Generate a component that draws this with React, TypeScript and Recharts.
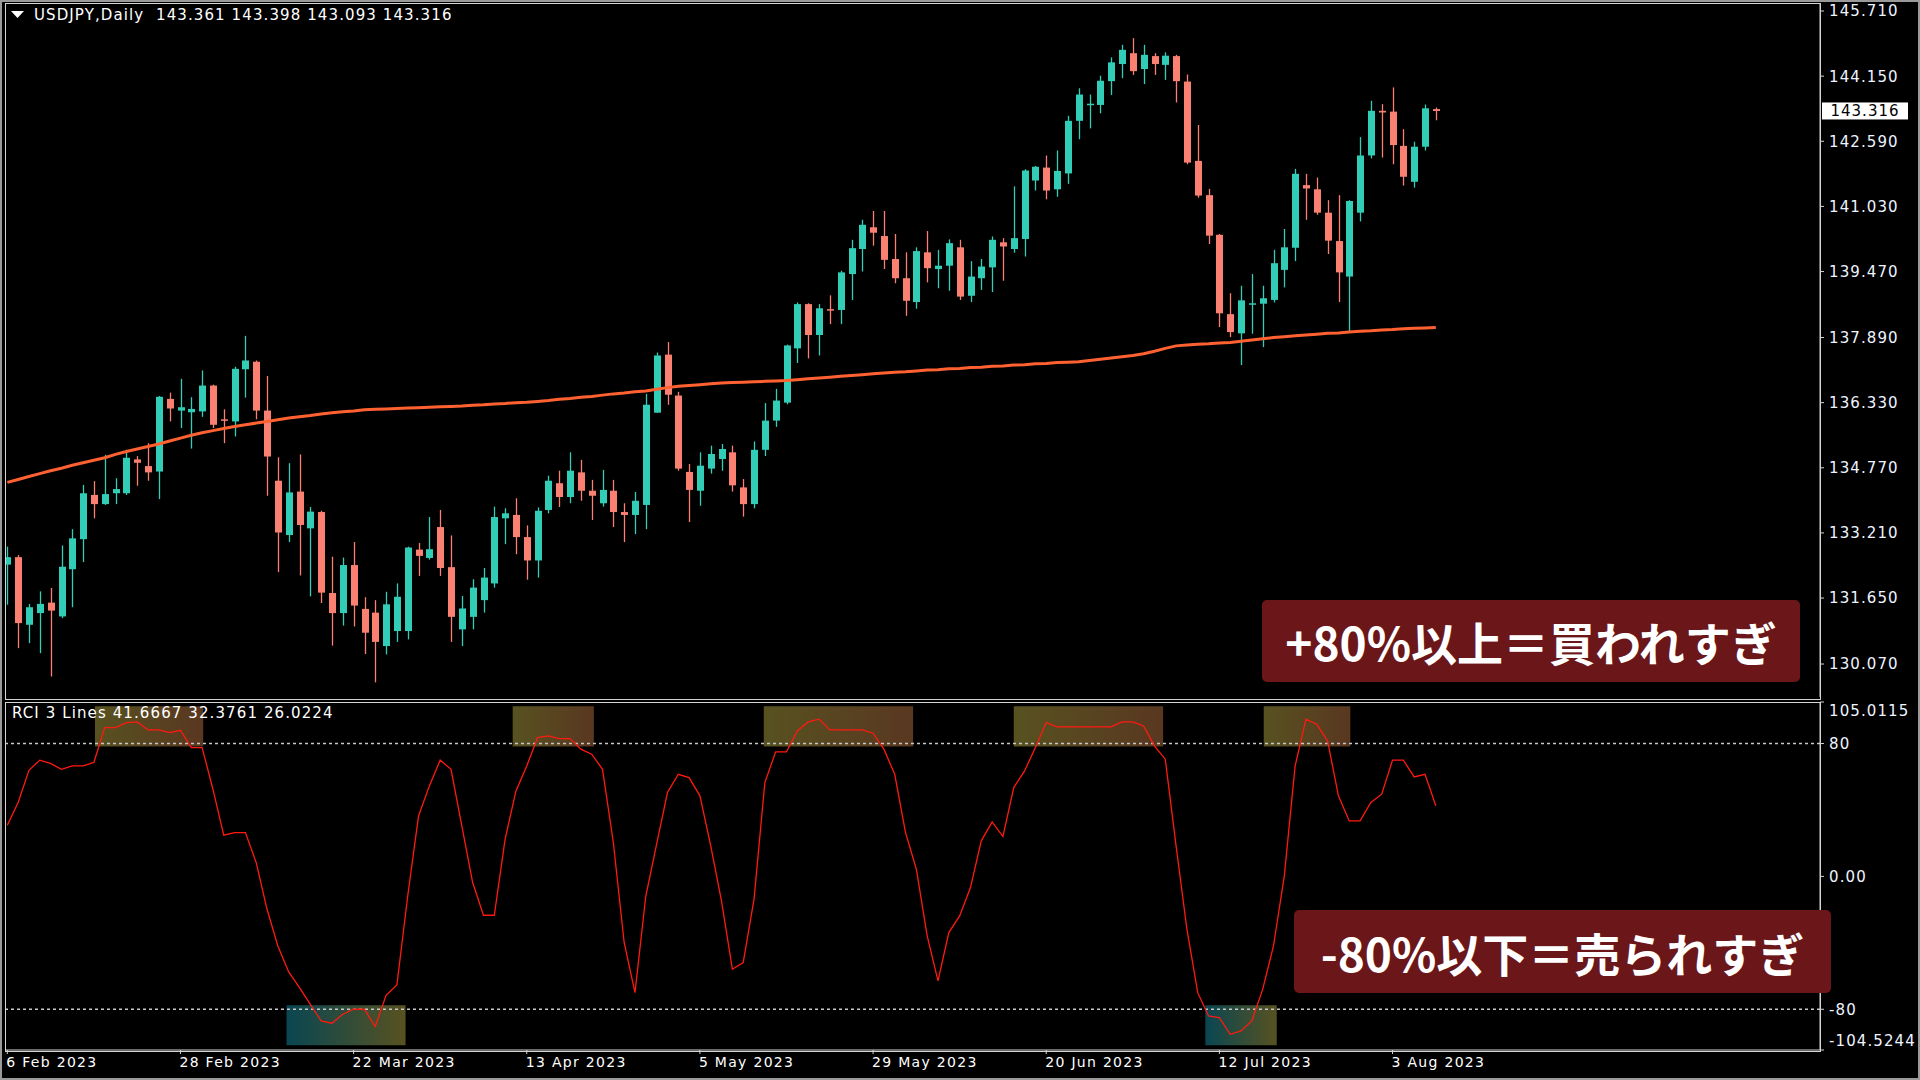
import React from "react";
import {
  ComposedChart,
  Bar,
  Line,
  XAxis,
  YAxis,
  ReferenceLine,
  ReferenceArea,
} from "recharts";

// daily candles, 6 Feb 2023 .. 9 Aug 2023 (index = trading day)
const OPEN = [
  132.45, 132.63, 131.01, 131.29, 131.54, 131.21, 132.34, 133.06, 134.12, 133.9,
  134.16, 134.16, 134.97, 134.81, 134.68, 136.42, 136.14, 136.1, 136.12, 136.74,
  135.93, 135.88, 137.13, 137.31, 136.14, 134.46, 133.16, 134.2, 133.32, 133.71,
  131.77, 131.29, 132.44, 131.39, 131.3, 130.5, 130.86, 130.86, 132.81, 132.61,
  133.35, 132.39, 130.9, 131.2, 131.6, 132.0, 133.56, 133.64, 133.11, 132.55,
  133.76, 134.4, 134.07, 134.66, 134.22, 133.92, 134.22, 133.71, 133.64, 133.88,
  136.09, 137.48, 136.5, 134.67, 134.22, 134.75, 134.98, 135.14, 134.3, 133.9,
  135.2, 135.9, 136.33, 137.63, 138.69, 137.95, 138.57, 138.55, 139.41, 140.01,
  140.53, 140.32, 139.77, 139.31, 138.74, 139.93, 139.53, 139.61, 140.05, 138.89,
  139.31, 139.57, 140.17, 140.01, 140.25, 141.65, 141.96, 141.44, 141.82, 143.08,
  143.46, 143.46, 144.03, 144.44, 144.7, 144.32, 144.63, 144.42, 144.63, 144.02,
  142.12, 141.3, 140.35, 138.45, 137.99, 138.69, 138.7, 138.79, 139.51, 140.04,
  141.54, 141.44, 140.88, 140.2, 139.35, 140.88, 142.25, 143.32, 143.3, 142.48,
  141.62, 142.46, 143.361,
];
const HIGH = [
  132.88, 132.68, 131.51, 131.81, 131.89, 132.91, 133.3, 134.36, 134.45, 135.08,
  134.52, 135.2, 135.05, 135.36, 136.49, 136.57, 136.9, 136.46, 137.1, 136.76,
  136.17, 137.19, 137.93, 137.34, 136.97, 135.02, 134.88, 135.09, 133.83, 133.74,
  132.64, 132.62, 132.99, 131.67, 131.6, 131.8, 132.0, 132.88, 132.97, 133.59,
  133.76, 133.15, 131.7, 132.1, 132.37, 133.84, 133.8, 134.04, 133.39, 133.82,
  134.58, 134.7, 135.14, 134.96, 134.48, 134.72, 134.48, 133.92, 134.19, 136.54,
  137.53, 137.78, 136.59, 134.86, 135.14, 135.3, 135.34, 135.3, 134.5, 135.4,
  136.32, 136.66, 137.72, 138.73, 138.71, 138.69, 138.9, 139.49, 140.23, 140.71,
  140.92, 140.92, 140.37, 139.93, 140.05, 140.44, 139.99, 140.24, 140.23, 139.72,
  139.77, 140.31, 140.27, 141.51, 141.92, 142.0, 142.25, 142.37, 143.2, 143.86,
  143.71, 144.16, 144.6, 144.9, 145.06, 144.9, 144.7, 144.72, 144.66, 144.19,
  142.98, 141.45, 140.37, 138.95, 139.13, 139.41, 139.13, 139.99, 140.49, 141.93,
  141.81, 141.72, 141.18, 141.3, 141.18, 142.69, 143.56, 143.48, 143.88, 142.88,
  142.58, 143.47, 143.398,
];
const LOW = [
  131.49, 130.45, 130.57, 130.33, 129.77, 131.17, 131.43, 132.51, 133.56, 133.88,
  133.9, 134.12, 134.34, 134.46, 134.02, 135.88, 135.72, 135.23, 135.99, 135.72,
  135.36, 135.52, 136.45, 135.93, 134.1, 132.27, 132.99, 132.19, 131.69, 131.53,
  130.51, 130.99, 130.97, 130.31, 129.63, 130.3, 130.6, 130.66, 132.18, 132.57,
  132.18, 130.6, 130.5, 130.9, 131.3, 131.9, 132.94, 132.7, 132.09, 132.14,
  133.68, 133.83, 133.92, 133.98, 133.52, 133.84, 133.35, 132.99, 133.18, 133.3,
  136.09, 136.28, 134.7, 133.47, 133.86, 134.63, 134.7, 134.2, 133.6, 133.8,
  135.05, 135.75, 136.29, 137.28, 137.39, 137.46, 138.21, 138.21, 138.79, 139.47,
  140.09, 139.53, 139.19, 138.41, 138.58, 139.21, 139.07, 139.01, 138.79, 138.74,
  139.03, 138.98, 139.25, 139.92, 139.83, 141.41, 141.2, 141.26, 141.57, 142.64,
  142.9, 143.26, 143.7, 144.1, 144.18, 143.96, 144.18, 144.06, 143.52, 142.04,
  141.24, 140.13, 138.14, 137.9, 137.23, 137.98, 137.66, 138.73, 139.09, 139.72,
  140.71, 140.83, 139.89, 138.74, 138.03, 140.67, 142.18, 142.2, 142.04, 141.53,
  141.48, 142.37, 143.093,
];
const CLOSE = [
  132.63, 131.05, 131.43, 131.51, 131.35, 132.4, 133.08, 134.16, 133.9, 134.14,
  134.26, 135.01, 134.89, 134.66, 136.47, 136.19, 136.22, 136.18, 136.74, 135.8,
  135.92, 137.14, 137.34, 136.14, 135.04, 133.22, 134.18, 133.4, 133.72, 131.78,
  131.29, 132.44, 131.47, 130.82, 130.6, 131.5, 131.68, 132.86, 132.66, 132.82,
  132.37, 131.2, 131.4, 131.9, 132.14, 133.59, 133.68, 133.11, 132.55, 133.74,
  134.46, 134.07, 134.7, 134.22, 134.1, 134.24, 133.71, 133.64, 133.98, 136.28,
  137.46, 136.52, 134.75, 134.24, 134.82, 135.1, 135.22, 134.35, 133.9, 135.2,
  135.9, 136.38, 137.7, 138.69, 137.95, 138.59, 138.55, 139.45, 140.03, 140.59,
  140.4, 139.75, 139.31, 138.77, 139.96, 139.55, 139.61, 140.15, 138.87, 139.35,
  139.59, 140.23, 140.07, 140.27, 141.89, 141.98, 141.41, 141.88, 143.08, 143.71,
  143.49, 144.04, 144.48, 144.78, 144.27, 144.66, 144.44, 144.64, 144.03, 142.08,
  141.29, 140.33, 138.47, 138.02, 138.78, 138.71, 138.83, 139.67, 140.05, 141.81,
  141.46, 140.88, 140.21, 139.45, 141.16, 142.25, 143.32, 143.28, 142.5, 141.74,
  142.46, 143.38, 143.316,
];
// long moving average (orange line)
const MA = [
  134.42, 134.49, 134.56, 134.63, 134.7, 134.76, 134.83, 134.89, 134.95, 135.01,
  135.09, 135.16, 135.22, 135.28, 135.34, 135.41, 135.48, 135.55, 135.61, 135.66,
  135.71, 135.76, 135.8, 135.84, 135.88, 135.92, 135.96, 135.99, 136.02, 136.06,
  136.09, 136.11, 136.13, 136.16, 136.17, 136.18, 136.19, 136.2, 136.21, 136.22,
  136.23, 136.24, 136.25, 136.27, 136.28, 136.3, 136.31, 136.33, 136.34, 136.36,
  136.38, 136.41, 136.43, 136.46, 136.48, 136.51, 136.54, 136.56, 136.59, 136.61,
  136.65, 136.69, 136.72, 136.74, 136.76, 136.78, 136.8, 136.81, 136.82, 136.83,
  136.84, 136.85, 136.86, 136.88, 136.9, 136.92, 136.94, 136.96, 136.98, 137.0,
  137.02, 137.04, 137.06, 137.07, 137.09, 137.11, 137.12, 137.14, 137.15, 137.17,
  137.18, 137.2, 137.21, 137.23, 137.24, 137.26, 137.27, 137.29, 137.3, 137.31,
  137.34, 137.37, 137.4, 137.43, 137.46, 137.5, 137.56, 137.63, 137.69, 137.71,
  137.73, 137.74, 137.76, 137.77, 137.8, 137.83, 137.86, 137.89, 137.91, 137.93,
  137.95, 137.97, 137.99, 138.0, 138.02, 138.04, 138.05, 138.07, 138.08, 138.1,
  138.11, 138.12, 138.13,
];
const RCI = [
  30.8, 44.5, 63.9, 70.0, 68.0, 64.5, 66.5, 66.5, 68.6, 89.6,
  89.6, 92.6, 93.0, 88.2, 88.2, 86.6, 88.0, 77.6, 77.6, 52.5,
  24.8, 26.4, 26.4, 8.3, -19.8, -41.9, -57.5, -67.0, -77.0, -87.0,
  -88.4, -83.0, -80.0, -80.0, -90.4, -71.6, -65.3, -11.8, 36.4, 54.5,
  70.0, 64.5, 30.4, -3.7, -23.4, -23.4, 22.4, 51.5, 66.5, 83.6,
  84.6, 83.0, 83.0, 76.6, 73.6, 64.5, 20.4, -39.8, -70.0, -11.8,
  19.4, 50.5, 61.5, 59.5, 48.5, 18.4, -15.0, -55.9, -51.9, -13.7,
  56.5, 75.0, 75.0, 87.6, 93.0, 94.7, 88.2, 88.2, 88.2, 88.2,
  86.2, 76.6, 61.5, 26.4, 4.3, -35.8, -62.9, -33.8, -23.8, -6.7,
  21.4, 32.8, 24.0, 53.5, 63.5, 77.6, 92.6, 90.0, 90.0, 90.0,
  90.0, 90.0, 90.0, 93.0, 93.0, 90.6, 78.6, 70.6, 18.4, -31.8,
  -70.0, -84.0, -85.0, -95.1, -93.0, -87.0, -68.0, -41.9, 0.3, 66.5,
  94.7, 91.6, 81.6, 48.5, 33.4, 33.4, 44.5, 49.5, 70.0, 70.0,
  59.9, 61.5, 42.5,
];

const PRICE_TICKS = [145.71, 144.15, 142.59, 141.03, 139.47, 137.89, 136.33, 134.77, 133.21, 131.65, 130.07];
const RCI_TICKS = [105.0115, 80, 0, -80, -104.5244];
const RCI_TICK_LABELS = ["105.0115", "80", "0.00", "-80", "-104.5244"];
const DATE_TICKS = [0, 16, 32, 48, 64, 80, 96, 112, 128];
const DATE_LABELS = [
  "6 Feb 2023", "28 Feb 2023", "22 Mar 2023", "13 Apr 2023", "5 May 2023",
  "29 May 2023", "20 Jun 2023", "12 Jul 2023", "3 Aug 2023",
];
const RCI_LAST = ["41.6667", "32.3761", "26.0224"];
// highlighted zones (bar index ranges)
const OVERBOUGHT_ZONES = [[8.1, 18.1], [46.7, 54.2], [69.9, 83.7], [93.0, 106.8], [116.1, 124.1]];
const OVERSOLD_ZONES = [[25.8, 36.8], [110.7, 117.3]];

const UP = "#31cdb7";
const DOWN = "#fa8072";
const MA_COLOR = "#ff6131";
const FONT = '"DejaVu Sans", sans-serif';
const FRAME = "#d4d4d4";
const X_DOMAIN = [-0.213, 167.5];

const candles = OPEN.map((o, i) => ({
  i,
  o,
  h: HIGH[i],
  l: LOW[i],
  c: CLOSE[i],
  range: [LOW[i], HIGH[i]],
  ma: MA[i],
}));
const rciRows = RCI.map((v, i) => ({ i, rci: v }));
const last = candles[candles.length - 1];

function Candle(props: any) {
  const { x, y, width, height, payload } = props;
  if (!payload || height == null) return null;
  const top = Math.min(y, y + height);
  const span = Math.abs(height);
  const k = span / (payload.h - payload.l || 1);
  const cx = Math.round(x + width / 2) + 0.5;
  const yO = top + (payload.h - payload.o) * k;
  const yC = top + (payload.h - payload.c) * k;
  const color = payload.c >= payload.o ? UP : DOWN;
  return (
    <g>
      <line x1={cx} x2={cx} y1={top} y2={top + span} stroke={color} strokeWidth={1.3} />
      <rect x={cx - 3.5} y={Math.min(yO, yC)} width={7} height={Math.max(1.5, Math.abs(yO - yC))} fill={color} />
    </g>
  );
}

function PriceTick({ x, y, payload }: any) {
  return (
    <text x={x} y={y} dy="0.36em" fill="#eef4ff" fontSize={15} fontFamily={FONT} letterSpacing={1.1}>
      {payload.value.toFixed(3)}
    </text>
  );
}

function RciTick({ x, y, payload }: any) {
  const idx = RCI_TICKS.indexOf(payload.value);
  const shift = payload.value > 100 ? 9 : payload.value < -100 ? -9 : 0;
  return (
    <text x={x} y={y + shift} dy="0.36em" fill="#eef4ff" fontSize={15} fontFamily={FONT} letterSpacing={1.1}>
      {RCI_TICK_LABELS[idx]}
    </text>
  );
}

function DateTick({ x, y, payload }: any) {
  const idx = DATE_TICKS.indexOf(payload.value);
  return (
    <text x={x - 1} y={y + 6} dy="0.36em" fill="#ffffff" fontSize={14} fontFamily={FONT} letterSpacing={1.3}>
      {DATE_LABELS[idx]}
    </text>
  );
}

function PriceTag(props: any) {
  const vb = props.viewBox || {};
  const right = vb.x + vb.width;
  return (
    <g>
      <rect x={right + 2} y={vb.y - 8.5} width={86} height={17} fill="#ffffff" />
      <text x={right + 45} y={vb.y} dy="0.36em" textAnchor="middle" fill="#000" fontSize={15} fontFamily={FONT} letterSpacing={1}>
        {last.c.toFixed(3)}
      </text>
    </g>
  );
}

const noteStyle: React.CSSProperties = {
  position: "absolute",
  background: "#6b1619",
  borderRadius: 5,
  color: "#ffffff",
  fontFamily: '"Noto Sans CJK JP", sans-serif',
  fontWeight: 700,
  fontSize: 46,
  display: "flex",
  alignItems: "center",
  justifyContent: "center",
  whiteSpace: "nowrap",
};

export default function App() {
  return (
    <div
      style={{
        position: "absolute",
        left: 0,
        top: 0,
        width: 1920,
        height: 1080,
        background: "#000",
        overflow: "hidden",
        boxSizing: "border-box",
        border: "2px solid #9a9a9a",
      }}
    >
      <div style={{ position: "absolute", left: -2, top: -2 }}>
        <ComposedChart width={1920} height={700} data={candles} margin={{ top: 4, right: 0, bottom: 3, left: 5 }}>
          <XAxis type="number" dataKey="i" domain={X_DOMAIN} allowDataOverflow hide height={0} />
          <YAxis
            orientation="right"
            width={100}
            domain={[129.28, 145.878]}
            allowDataOverflow
            ticks={PRICE_TICKS}
            interval={0}
            tick={<PriceTick />}
            tickSize={4}
            tickMargin={5}
            axisLine={{ stroke: FRAME }}
            tickLine={{ stroke: FRAME }}
          />
          <Bar dataKey="range" barSize={7} shape={<Candle />} isAnimationActive={false} />
          <Line type="linear" dataKey="ma" stroke={MA_COLOR} strokeWidth={3} dot={false} isAnimationActive={false} />
          <ReferenceLine y={last.c} stroke="none" label={<PriceTag />} />
        </ComposedChart>
      </div>

      <div style={{ position: "absolute", left: -2, top: 698 }}>
        <ComposedChart width={1920} height={380} data={rciRows} margin={{ top: 2, right: 0, bottom: 0, left: 5 }}>
          <defs>
            <linearGradient id="obFill" x1="0" y1="0" x2="1" y2="0">
              <stop offset="0" stopColor="#5c5622" />
              <stop offset="1" stopColor="#5e3a22" />
            </linearGradient>
            <linearGradient id="osFill" x1="0" y1="0" x2="1" y2="0">
              <stop offset="0" stopColor="#0a4a56" />
              <stop offset="1" stopColor="#5c5622" />
            </linearGradient>
          </defs>
          <XAxis
            type="number"
            dataKey="i"
            domain={X_DOMAIN}
            allowDataOverflow
            ticks={DATE_TICKS}
            interval={0}
            tick={<DateTick />}
            tickSize={4}
            tickMargin={2}
            height={30}
            axisLine={{ stroke: FRAME }}
            tickLine={{ stroke: FRAME }}
          />
          <YAxis
            orientation="right"
            width={100}
            domain={[-104.5244, 105.0115]}
            allowDataOverflow
            ticks={RCI_TICKS}
            interval={0}
            tick={<RciTick />}
            tickSize={4}
            tickMargin={5}
            axisLine={{ stroke: FRAME }}
            tickLine={{ stroke: FRAME }}
          />
          {OVERBOUGHT_ZONES.map(([a, b], k) => (
            <ReferenceArea key={"ob" + k} x1={a} x2={b} y1={78.2} y2={102.5} fill="url(#obFill)" fillOpacity={0.95} stroke="none" />
          ))}
          {OVERSOLD_ZONES.map(([a, b], k) => (
            <ReferenceArea key={"os" + k} x1={a} x2={b} y1={-101.7} y2={-77.6} fill="url(#osFill)" fillOpacity={0.95} stroke="none" />
          ))}
          <ReferenceLine y={80} stroke="#c8c8c8" strokeWidth={1.5} strokeDasharray="3 3" />
          <ReferenceLine y={-80} stroke="#c8c8c8" strokeWidth={1.5} strokeDasharray="3 3" />
          <Line type="linear" dataKey="rci" stroke="#ff1a10" strokeWidth={1.3} dot={false} isAnimationActive={false} />
        </ComposedChart>
      </div>

      {/* pane frames */}
      <div style={{ position: "absolute", left: 3, top: 1, width: 1816, height: 697, border: `1px solid ${FRAME}`, boxSizing: "border-box", pointerEvents: "none" }} />
      <div style={{ position: "absolute", left: 3, top: 700, width: 1816, height: 350, border: `1px solid ${FRAME}`, boxSizing: "border-box", pointerEvents: "none" }} />

      {/* titles */}
      <svg style={{ position: "absolute", left: 8, top: 8 }} width={16} height={10}>
        <polygon points="1,1 14,1 7.5,8" fill="#ffffff" />
      </svg>
      <div style={{ position: "absolute", left: 32, top: 4, color: "#fff", fontFamily: FONT, fontSize: 15, letterSpacing: 1.1, whiteSpace: "pre" }}>
        {`USDJPY,Daily  ${last.o.toFixed(3)} ${last.h.toFixed(3)} ${last.l.toFixed(3)} ${last.c.toFixed(3)}`}
      </div>
      <div style={{ position: "absolute", left: 10, top: 702, color: "#fff", fontFamily: FONT, fontSize: 15, letterSpacing: 1.1, whiteSpace: "pre" }}>
        {`RCI 3 Lines ${RCI_LAST.join(" ")}`}
      </div>

      {/* annotations */}
      <div style={{ ...noteStyle, left: 1260, top: 598, width: 538, height: 82 }}>+80%以上＝買われすぎ</div>
      <div style={{ ...noteStyle, left: 1292, top: 908, width: 537, height: 83 }}>-80%以下＝売られすぎ</div>
    </div>
  );
}
